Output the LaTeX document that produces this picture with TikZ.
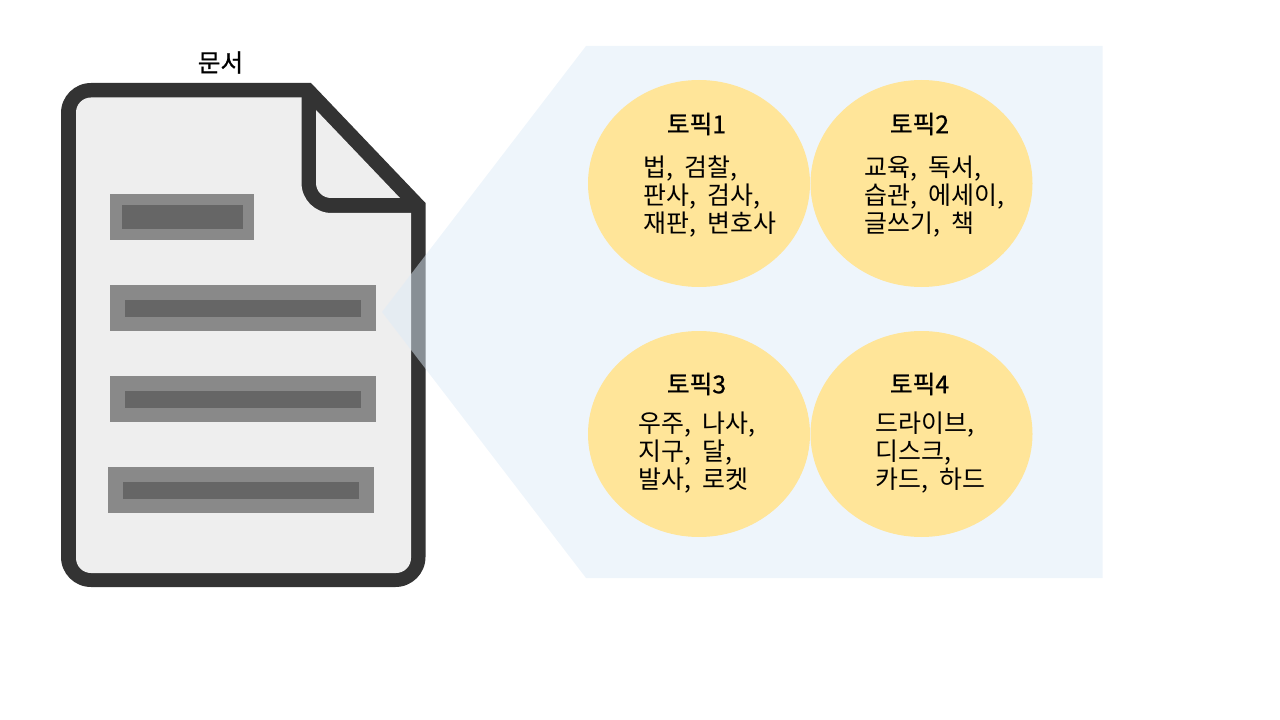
\documentclass[tikz,border=0pt]{standalone}
\usepackage{fontspec}
\setmainfont{Noto Sans CJK KR}
\newfontfamily\titlefont[FakeBold=0.8]{Noto Sans CJK KR}
\newfontfamily\bodyfont[WordSpace=2.0]{Noto Sans CJK KR}
\definecolor{docdark}{HTML}{333333}
\definecolor{docpaper}{HTML}{EEEEEE}
\definecolor{barouter}{HTML}{898989}
\definecolor{barinner}{HTML}{666666}
\definecolor{panelblue}{HTML}{DEEBF7}
\definecolor{topicfill}{HTML}{FFE599}
\tikzset{
  x=0.75pt,y=-0.75pt,
  barout/.style={fill=barouter},
  barin/.style={fill=barinner},
  topic/.style={ellipse,fill=topicfill,inner sep=0pt,outer sep=0pt},
  titletext/.style={font=\titlefont\fontsize{18.5pt}{21pt}\selectfont,inner sep=0pt,text=black},
  bodytext/.style={font=\bodyfont\fontsize{18.7pt}{21.3pt}\selectfont,inner sep=0pt,anchor=west,align=left,text=black},
}
\usetikzlibrary{shapes.geometric}
\begin{document}
\begin{tikzpicture}
\useasboundingbox (0,0) rectangle (1280,720);
% document
\fill[docdark] (91,83) -- (311,83) -- (425.5,203) -- (425.5,557) arc[start angle=0,end angle=90,x radius=22.5pt,y radius=-22.5pt] -- (91,587)
  arc[start angle=90,end angle=180,x radius=22.5pt,y radius=-22.5pt] -- (61,113) arc[start angle=180,end angle=270,x radius=22.5pt,y radius=-22.5pt] -- cycle;
\fill[docpaper] (91,97.5) -- (301.5,97.5) -- (301.5,183) arc[start angle=180,end angle=90,x radius=22.5pt,y radius=-22.5pt] -- (411,213) -- (411,558)
  arc[start angle=0,end angle=90,x radius=11.25pt,y radius=-11.25pt] -- (91,573)
  arc[start angle=90,end angle=180,x radius=11.25pt,y radius=-11.25pt] -- (76,112.5) arc[start angle=180,end angle=270,x radius=11.25pt,y radius=-11.25pt] -- cycle;
\fill[docpaper] (316,110) -- (400,198) -- (331,198) arc[start angle=90,end angle=180,x radius=11.25pt,y radius=-11.25pt] -- cycle;
% bars
\fill[barout] (110,194) rectangle (254,240);
\fill[barin] (121.5,205) rectangle (243,229);
\fill[barout] (110,285) rectangle (376,331);
\fill[barin] (125,300) rectangle (361,317);
\fill[barout] (110,376) rectangle (376,422);
\fill[barin] (125,391) rectangle (361,408);
\fill[barout] (107.5,467) rectangle (373.5,513);
\fill[barin] (122.5,482) rectangle (358.5,499);
% callout panel
\fill[panelblue,fill opacity=0.5] (586,46) -- (1102.5,46) -- (1102.5,578) -- (586,578) -- (382,312) -- cycle;
% topics
\node[topic,minimum width=166.5pt,minimum height=155.25pt] (t1) at (699,183.5) {};
\node[topic,minimum width=166.5pt,minimum height=155.25pt] (t2) at (921.5,183.5) {};
\node[topic,minimum width=166.5pt,minimum height=154.5pt] (t3) at (699,434) {};
\node[topic,minimum width=166.5pt,minimum height=154.5pt] (t4) at (921.5,434) {};
% texts
\node[titletext] (doc) at (220.5,62.5) {문서};
\node[titletext] (h1) at (696.5,124) {토픽1};
\node[titletext] (h2) at (919.5,124) {토픽2};
\node[titletext] (h3) at (696.5,384) {토픽3};
\node[titletext] (h4) at (919.5,384) {토픽4};
\node[bodytext] (b1) at (643,196.5) {법, 검찰,\\판사, 검사,\\재판, 변호사};
\node[bodytext] (b2) at (864,196.5) {교육, 독서,\\습관, 에세이,\\글쓰기, 책};
\node[bodytext] (b3) at (638,452.5) {우주, 나사,\\지구, 달,\\발사, 로켓};
\node[bodytext] (b4) at (875,452.5) {드라이브,\\디스크,\\카드, 하드};
\end{tikzpicture}
\end{document}
